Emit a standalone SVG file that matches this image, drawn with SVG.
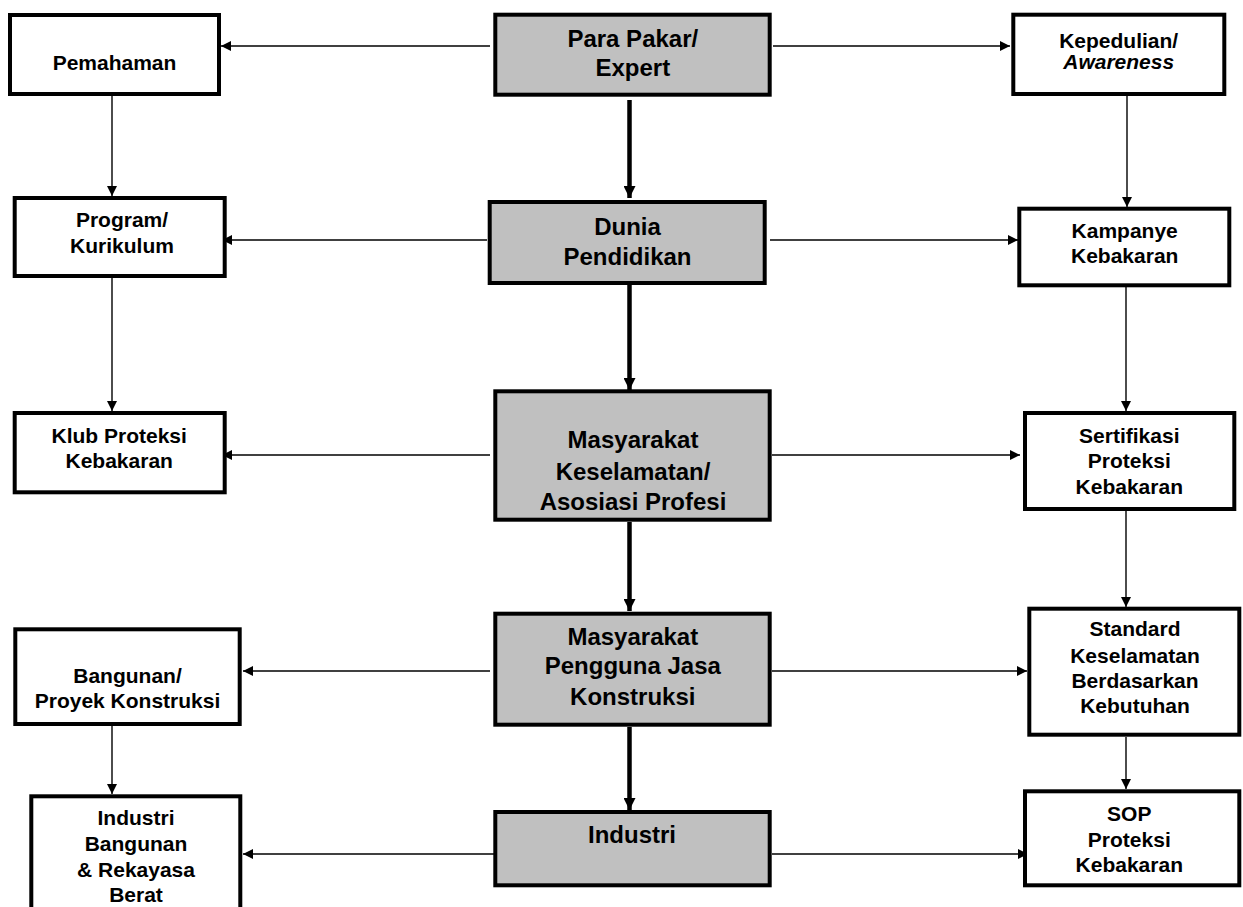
<svg xmlns="http://www.w3.org/2000/svg" width="1243" height="907" viewBox="0 0 1243 907">
<defs>
<style>
.box{fill:#ffffff;stroke:#000000;stroke-width:4}
.core{fill:#c0c0c0;stroke:#000000;stroke-width:4}
.t{font-family:"Liberation Sans",Arial,sans-serif;font-weight:bold;font-size:21px;text-anchor:middle;fill:#000}
.tc{font-family:"Liberation Sans",Arial,sans-serif;font-weight:bold;font-size:24px;text-anchor:middle;fill:#000}
.thin{fill:none;stroke:#000;stroke-width:1.4;marker-end:url(#a)}
.thick{fill:none;stroke:#000;stroke-width:4.5;marker-end:url(#b)}
</style>
<marker id="a" markerUnits="userSpaceOnUse" markerWidth="10" markerHeight="10" refX="10" refY="5" orient="auto"><path d="M0,0 L10,5 L0,10 z" fill="#000"/></marker>
<marker id="b" markerUnits="userSpaceOnUse" markerWidth="12" markerHeight="12" refX="12" refY="6" orient="auto"><path d="M0,0 L12,6 L0,12 z" fill="#000"/></marker>
</defs>
<rect width="1243" height="907" fill="#ffffff"/>
<g id="connectors">
<path class="thin" d="M490,46 L221,46"/>
<path class="thin" d="M773,46 L1010,46"/>
<path class="thin" d="M487,240 L222,240"/>
<path class="thin" d="M770,240 L1018,240"/>
<path class="thin" d="M490,455 L222,455"/>
<path class="thin" d="M772,455 L1020,455"/>
<path class="thin" d="M490,671 L243,671"/>
<path class="thin" d="M772,671 L1027,671"/>
<path class="thin" d="M501,854 L243,854"/>
<path class="thin" d="M772,854 L1028,854"/>
<path class="thin" d="M112,88 L112,196"/>
<path class="thin" d="M1127,88 L1127,207"/>
<path class="thin" d="M112,272 L112,411"/>
<path class="thin" d="M1126,287 L1126,411"/>
<path class="thin" d="M1126,511 L1126,607"/>
<path class="thin" d="M112,726 L112,794"/>
<path class="thin" d="M1126,737 L1126,789"/>
<path class="thick" d="M629.5,100 L629.5,198"/>
<path class="thick" d="M629.5,285 L629.5,390"/>
<path class="thick" d="M629.5,522 L629.5,611"/>
<path class="thick" d="M629.5,727 L629.5,810"/>
</g>
<g id="pemahaman"><rect class="box" x="10" y="15" width="209" height="79"/><text class="t" x="114.5" y="70">Pemahaman</text></g>
<g id="para-pakar"><rect class="core" x="495.3" y="14.7" width="274.4" height="80"/><text class="tc" x="632.8" y="46.7">Para Pakar/</text><text class="tc" x="632.8" y="76">Expert</text></g>
<g id="kepedulian"><rect class="box" x="1013.3" y="14.7" width="211" height="79.3"/><text class="t" x="1118.7" y="48.3">Kepedulian/</text><text class="t" x="1118.7" y="69" font-style="italic">Awareness</text></g>
<g id="program"><rect class="box" x="14.7" y="198" width="210" height="78"/><text class="t" x="122" y="227">Program/</text><text class="t" x="122" y="253">Kurikulum</text></g>
<g id="dunia"><rect class="core" x="489.7" y="202" width="275" height="81"/><text class="tc" x="627.5" y="235">Dunia</text><text class="tc" x="627.5" y="265">Pendidikan</text></g>
<g id="kampanye"><rect class="box" x="1019.3" y="208.7" width="210" height="76.6"/><text class="t" x="1124.7" y="238.3">Kampanye</text><text class="t" x="1124.7" y="263.3">Kebakaran</text></g>
<g id="klub"><rect class="box" x="14.7" y="413" width="210" height="79.3"/><text class="t" x="119.2" y="443.3">Klub Proteksi</text><text class="t" x="119.2" y="467.7">Kebakaran</text></g>
<g id="masyarakat-keselamatan"><rect class="core" x="495.3" y="391.3" width="274.4" height="128.4"/><text class="tc" x="633" y="448.3">Masyarakat</text><text class="tc" x="633" y="480">Keselamatan/</text><text class="tc" x="633" y="510">Asosiasi Profesi</text></g>
<g id="sertifikasi"><rect class="box" x="1025" y="413" width="209.3" height="96"/><text class="t" x="1129.3" y="443.3">Sertifikasi</text><text class="t" x="1129.3" y="468.3">Proteksi</text><text class="t" x="1129.3" y="494">Kebakaran</text></g>
<g id="bangunan"><rect class="box" x="15.3" y="629.3" width="224.4" height="94.7"/><text class="t" x="127.5" y="683.3">Bangunan/</text><text class="t" x="127.5" y="708.3">Proyek Konstruksi</text></g>
<g id="masyarakat-pengguna"><rect class="core" x="495.3" y="613.7" width="274.4" height="111"/><text class="tc" x="632.8" y="645">Masyarakat</text><text class="tc" x="632.8" y="674">Pengguna Jasa</text><text class="tc" x="632.8" y="705">Konstruksi</text></g>
<g id="standard"><rect class="box" x="1029.3" y="608.7" width="210" height="126"/><text class="t" x="1135" y="635.7">Standard</text><text class="t" x="1135" y="662.7">Keselamatan</text><text class="t" x="1135" y="688.3">Berdasarkan</text><text class="t" x="1135" y="713.3">Kebutuhan</text></g>
<g id="industri-bangunan"><rect class="box" x="31.3" y="796.3" width="209" height="130"/><text class="t" x="136" y="825">Industri</text><text class="t" x="136" y="850.7">Bangunan</text><text class="t" x="136" y="876.7">&amp; Rekayasa</text><text class="t" x="136" y="901.7">Berat</text></g>
<g id="industri"><rect class="core" x="495.3" y="812" width="274.4" height="73.3"/><text class="tc" x="632" y="842.7">Industri</text></g>
<g id="sop"><rect class="box" x="1025" y="791.3" width="214.3" height="94"/><text class="t" x="1129.3" y="821">SOP</text><text class="t" x="1129.3" y="846.7">Proteksi</text><text class="t" x="1129.3" y="871.7">Kebakaran</text></g>
</svg>
